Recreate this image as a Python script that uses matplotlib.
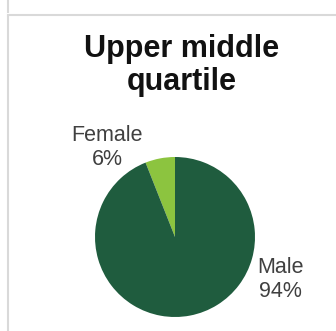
import matplotlib.pyplot as plt
from matplotlib.lines import Line2D

# data
labels = ['Female', 'Male']
shares = [6, 94]
colors = ['#8cc43f', '#1f5c3e']
title = 'Upper middle\nquartile'

W, H = 336, 331
fig = plt.figure(figsize=(W / 100, H / 100), dpi=100)
plt.rcParams['font.family'] = ['Liberation Sans', 'DejaVu Sans']

# panel borders (light grey frame lines)
def px(x, y):
    return x / W, 1 - y / H

for xs, ys in [((8, 8), (0, 12)), ((8, 336), (15, 15)), ((8, 8), (16, 331))]:
    x0, y0 = px(xs[0], ys[0])
    x1, y1 = px(xs[1], ys[1])
    fig.add_artist(Line2D([x0, x1], [y0, y1], color='#d9d9d9', lw=1.5))

# title
fig.text(182 / W, 1 - 34 / H, title, ha='center', va='top', fontsize=22,
         fontweight='bold', color='#111111', linespacing=1.13)

# pie
cx, cy, r = 175, 237, 80
ax = fig.add_axes([(cx - r) / W, (H - cy - r) / H, 2 * r / W, 2 * r / H])
wedges, _ = ax.pie(shares, colors=colors, startangle=90, counterclock=True,
                   wedgeprops=dict(linewidth=0))
ax.set_xlim(-1, 1)
ax.set_ylim(-1, 1)
ax.set_aspect('auto')
ax.axis('off')

label_pos = [(-0.85, 1.12), (1.32, -0.53)]
for lab, v, (lx, ly) in zip(labels, shares, label_pos):
    ax.text(lx, ly, f'{lab}\n{v}%', ha='center', va='center', fontsize=15.5,
            color='#404040', linespacing=1.15, clip_on=False)

fig.savefig('out.png', dpi=100)
